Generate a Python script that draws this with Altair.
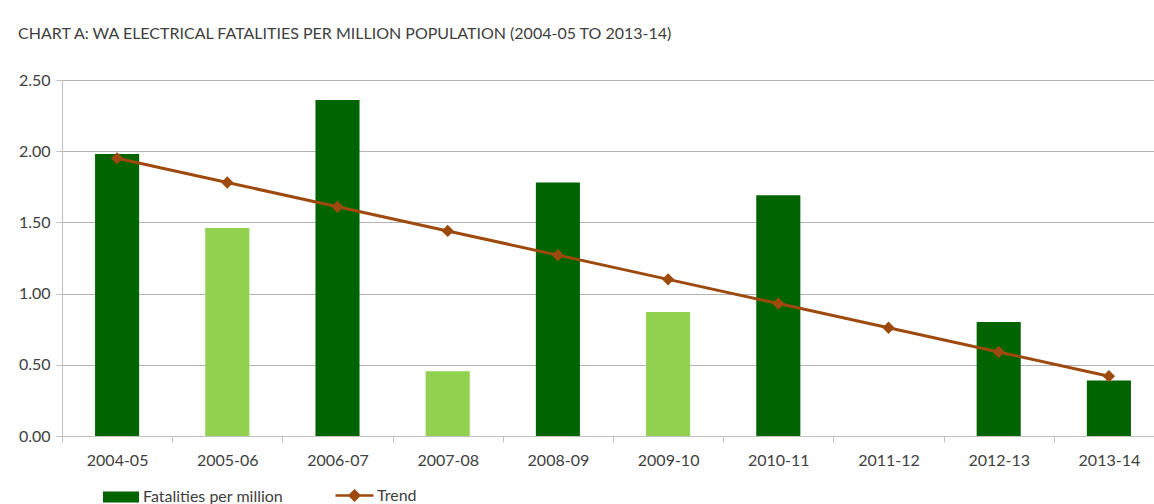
import altair as alt
import pandas as pd

years = ["2004-05", "2005-06", "2006-07", "2007-08", "2008-09",
         "2009-10", "2010-11", "2011-12", "2012-13", "2013-14"]
fatalities = [1.98, 1.46, 2.36, 0.455, 1.78, 0.87, 1.69, 0.0, 0.80, 0.39]
trend = [1.95, 1.78, 1.61, 1.44, 1.27, 1.10, 0.93, 0.76, 0.59, 0.42]
light_years = ["2005-06", "2007-08", "2009-10"]
y_ticks = [0, 0.5, 1.0, 1.5, 2.0, 2.5]

df = pd.DataFrame({
    "year": years,
    "value": fatalities,
    "trend": trend,
    "bars": ["Fatalities per million"] * len(years),
    "line": ["Trend"] * len(years),
})

DARK = "#006400"
LIGHT = "#92D050"
BROWN = "#9E4A0E"
FONT = "Lato"
TXT = "#404040"

light_test = "indexof(" + str(light_years) + ", datum.year) >= 0"

x_enc = alt.X("year:N", sort=years, title=None,
              scale=alt.Scale(range=[0, 1102], paddingInner=0, paddingOuter=0),
              axis=alt.Axis(labelAngle=0, tickBand="extent", labelFont=FONT,
                            labelFontSize=16, labelColor=TXT, labelPadding=10,
                            domainColor="#bfbfbf", tickColor="#bfbfbf",
                            tickSize=6, grid=False))
y_enc = alt.Y("value:Q", title=None,
              scale=alt.Scale(domain=[0, 2.5], nice=False),
              axis=alt.Axis(values=y_ticks, format=".2f", labelFont=FONT,
                            labelFontSize=16, labelColor=TXT, labelPadding=6,
                            domainColor="#bfbfbf", tickColor="#bfbfbf",
                            tickSize=6, gridColor="#b3b3b3", gridWidth=1))

base = alt.Chart(df)

dark_bars = base.transform_filter("!(" + light_test + ")").mark_bar(
    width={"band": 0.4}).encode(
    x=x_enc, y=y_enc,
    color=alt.Color("bars:N", scale=alt.Scale(domain=["Fatalities per million"], range=[DARK]),
                    legend=alt.Legend(title=None, orient="none", legendX=41, legendY=399,
                                      symbolType="M-1,-0.3H1V0.3H-1Z", symbolSize=1296,
                                      symbolStrokeWidth=0, labelFont=FONT, labelFontSize=16,
                                      labelColor=TXT, labelOffset=4)),
)

light_bars = base.transform_filter(light_test).mark_bar(
    width={"band": 0.4}, color=LIGHT).encode(x=x_enc, y=y_enc)

line = base.mark_line(strokeWidth=3, point=alt.OverlayMarkDef(shape="diamond", filled=True, size=90, color=BROWN)).encode(
    x=alt.X("year:N", sort=years),
    y=alt.Y("trend:Q"),
    stroke=alt.Stroke("line:N", scale=alt.Scale(domain=["Trend"], range=[BROWN]),
                      legend=alt.Legend(title=None, orient="none", legendX=272, legendY=395,
                                        symbolType="M-1,0H1M-0.25,0L0,-0.25L0.25,0L0,0.25Z",
                                        symbolSize=1444, symbolStrokeWidth=2.5,
                                        symbolFillColor=BROWN,
                                        labelFont=FONT, labelFontSize=16,
                                        labelColor=TXT, labelOffset=2)),
)

chart = alt.layer(dark_bars, light_bars, line).resolve_scale(
    color="independent", stroke="independent"
).properties(
    width=1092, height=356,
    padding={"left": 62, "top": 80, "right": 0, "bottom": 68},
    autosize=alt.AutoSizeParams(type="none"),
    title=alt.TitleParams("CHART A: WA ELECTRICAL FATALITIES PER MILLION POPULATION (2004-05 TO 2013-14)",
                          anchor="start", frame="group", dx=-44, offset=30,
                          font=FONT, fontSize=16, fontWeight="normal", color=TXT),
).configure_view(stroke=None).configure(background="white")

chart.save("out.html", embed_options={"renderer": "svg", "actions": False})
